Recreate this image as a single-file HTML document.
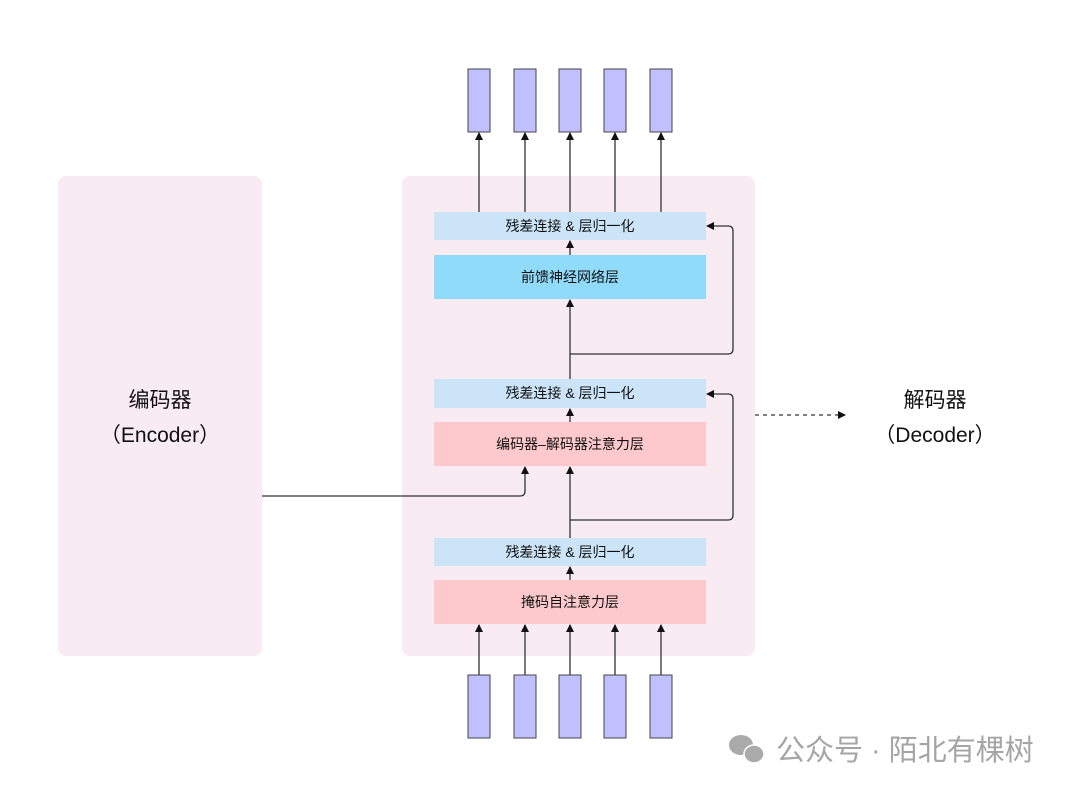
<!DOCTYPE html>
<html><head><meta charset="utf-8"><style>
body{margin:0;background:#fff;}
svg text{font-family:"Liberation Sans","Noto Sans CJK SC",sans-serif;}
</style></head><body>
<svg width="1080" height="794" viewBox="0 0 1080 794" xmlns="http://www.w3.org/2000/svg">
<defs><marker id="a" markerWidth="8" markerHeight="8" refX="7" refY="4" orient="auto" markerUnits="userSpaceOnUse"><path d="M0,0L8,4L0,8z" fill="#111"/></marker></defs>
<rect x="58" y="176" width="204" height="480" rx="8" fill="#f9ebf2"/>
<rect x="402" y="176" width="353" height="480" rx="8" fill="#f9ebf2"/>
<text x="160" y="407" font-size="21" text-anchor="middle" fill="#111">编码器</text>
<text x="160" y="442" font-size="21" text-anchor="middle" fill="#111" font-family="Noto Sans CJK SC">（Encoder）</text>
<text x="935" y="407" font-size="21" text-anchor="middle" fill="#111">解码器</text>
<text x="935" y="442" font-size="21" text-anchor="middle" fill="#111" font-family="Noto Sans CJK SC">（Decoder）</text>
<g fill="#c0c0ff" stroke="#444" stroke-width="1">
<rect x="468" y="69" width="22" height="63"/><rect x="514" y="69" width="22" height="63"/><rect x="559" y="69" width="22" height="63"/><rect x="604" y="69" width="22" height="63"/><rect x="650" y="69" width="22" height="63"/>
<rect x="468" y="675" width="22" height="63"/><rect x="514" y="675" width="22" height="63"/><rect x="559" y="675" width="22" height="63"/><rect x="604" y="675" width="22" height="63"/><rect x="650" y="675" width="22" height="63"/>
</g>
<rect x="434" y="212" width="272" height="28" fill="#cbe4f7"/>
<rect x="434" y="255" width="272" height="44" fill="#90dafa"/>
<rect x="434" y="379" width="272" height="29" fill="#cbe4f7"/>
<rect x="434" y="422" width="272" height="44" fill="#fec9cc"/>
<rect x="434" y="538" width="272" height="28" fill="#cbe4f7"/>
<rect x="434" y="580" width="272" height="44" fill="#fec9cc"/>
<g font-size="14" text-anchor="middle" fill="#111">
<text x="570" y="231">残差连接 &amp; 层归一化</text>
<text x="570" y="282">前馈神经网络层</text>
<text x="570" y="398">残差连接 &amp; 层归一化</text>
<text x="570" y="449">编码器–解码器注意力层</text>
<text x="570" y="557">残差连接 &amp; 层归一化</text>
<text x="570" y="607">掩码自注意力层</text>
</g>
<g stroke="#333" stroke-width="1.3" fill="none" marker-end="url(#a)">
<line x1="479" y1="212" x2="479" y2="133"/><line x1="525" y1="212" x2="525" y2="133"/><line x1="570" y1="212" x2="570" y2="133"/><line x1="615" y1="212" x2="615" y2="133"/><line x1="661" y1="212" x2="661" y2="133"/>
<line x1="479" y1="675" x2="479" y2="625"/><line x1="525" y1="675" x2="525" y2="625"/><line x1="570" y1="675" x2="570" y2="625"/><line x1="615" y1="675" x2="615" y2="625"/><line x1="661" y1="675" x2="661" y2="625"/>
<line x1="570" y1="255" x2="570" y2="241"/>
<line x1="570" y1="379" x2="570" y2="300"/>
<line x1="570" y1="422" x2="570" y2="409"/>
<line x1="570" y1="538" x2="570" y2="467"/>
<line x1="570" y1="580" x2="570" y2="567"/>
<path d="M570,354H728Q733,354 733,349V231Q733,226 728,226H707"/>
<path d="M570,520H728Q733,520 733,515V399Q733,394 728,394H707"/>
<path d="M262,496H520Q525,496 525,491V467"/>
<line x1="755" y1="415" x2="845" y2="415" stroke-dasharray="4,4"/>
</g>
<g fill="#aaa"><ellipse cx="741" cy="745" rx="12" ry="10"/><ellipse cx="754" cy="754" rx="10" ry="9" stroke="#fff" stroke-width="1.5"/></g>
<text x="776" y="760" font-size="29" fill="#a5a5a5">公众号 · 陌北有棵树</text>
</svg>
</body></html>
